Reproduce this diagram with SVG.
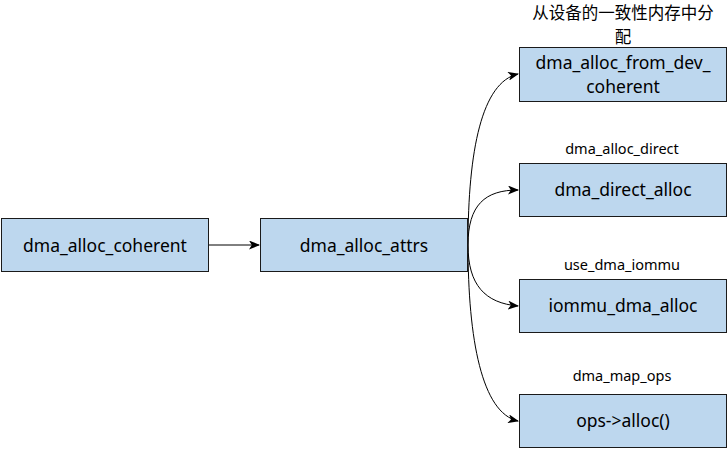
<svg xmlns="http://www.w3.org/2000/svg" width="728" height="450" viewBox="0 0 728 450">
<defs>
<style>
.box{fill:#BDD7EE;stroke:#1a1a1a;stroke-width:1}
.t{font-family:"Noto Sans","Open Sans","DejaVu Sans",sans-serif;font-size:17.5px;fill:#000;text-anchor:middle}
.lbl{font-family:"Noto Sans","Open Sans","DejaVu Sans",sans-serif;font-size:14.5px;fill:#000;text-anchor:middle}
.cjk{font-family:"Noto Sans CJK SC","Noto Sans",sans-serif;font-size:16.5px;fill:#000;text-anchor:middle}
.e{fill:none;stroke:#000;stroke-width:1}
</style>
<marker id="ah" markerWidth="11" markerHeight="9" refX="10" refY="4.5" orient="auto" markerUnits="userSpaceOnUse">
<path d="M0,0 L11,4.5 L0,9 L2.8,4.5 Z" fill="#000"/>
</marker>
</defs>
<rect width="728" height="450" fill="#fff"/>
<g id="connectors">
<path class="e" d="M208,245 L259,245" marker-end="url(#ah)"/>
<path class="e" d="M468,245 C468,150 482,82 518,74" marker-end="url(#ah)"/>
<path class="e" d="M468,245 C468,205 485,190 518,190" marker-end="url(#ah)"/>
<path class="e" d="M468,245 C468,285 485,303 518,306" marker-end="url(#ah)"/>
<path class="e" d="M468,245 C468,340 482,413 518,421" marker-end="url(#ah)"/>
</g>
<g id="dma_alloc_coherent">
<rect class="box" x="1.5" y="218.5" width="207" height="53"/>
<text class="t" x="105" y="252">dma_alloc_coherent</text>
</g>
<g id="dma_alloc_attrs">
<rect class="box" x="260.5" y="218.5" width="207" height="53"/>
<text class="t" x="364" y="252">dma_alloc_attrs</text>
</g>
<g id="dma_alloc_from_dev_coherent">
<text class="cjk" x="623" y="18.5">从设备的一致性内存中分<tspan x="623" y="42.5">配</tspan></text>
<rect class="box" x="519.5" y="47.5" width="207" height="54"/>
<text class="t" x="623" y="69">dma_alloc_from_dev_<tspan x="623" y="93">coherent</tspan></text>
</g>
<g id="dma_direct_alloc">
<text class="lbl" x="622" y="154">dma_alloc_direct</text>
<rect class="box" x="519.5" y="163.5" width="207" height="53"/>
<text class="t" x="623" y="196">dma_direct_alloc</text>
</g>
<g id="iommu_dma_alloc">
<text class="lbl" x="622" y="270">use_dma_iommu</text>
<rect class="box" x="519.5" y="279.5" width="207" height="53"/>
<text class="t" x="623" y="312">iommu_dma_alloc</text>
</g>
<g id="ops_alloc">
<text class="lbl" x="622" y="381">dma_map_ops</text>
<rect class="box" x="519.5" y="394.5" width="207" height="53"/>
<text class="t" x="623" y="427">ops-&gt;alloc()</text>
</g>
</svg>
